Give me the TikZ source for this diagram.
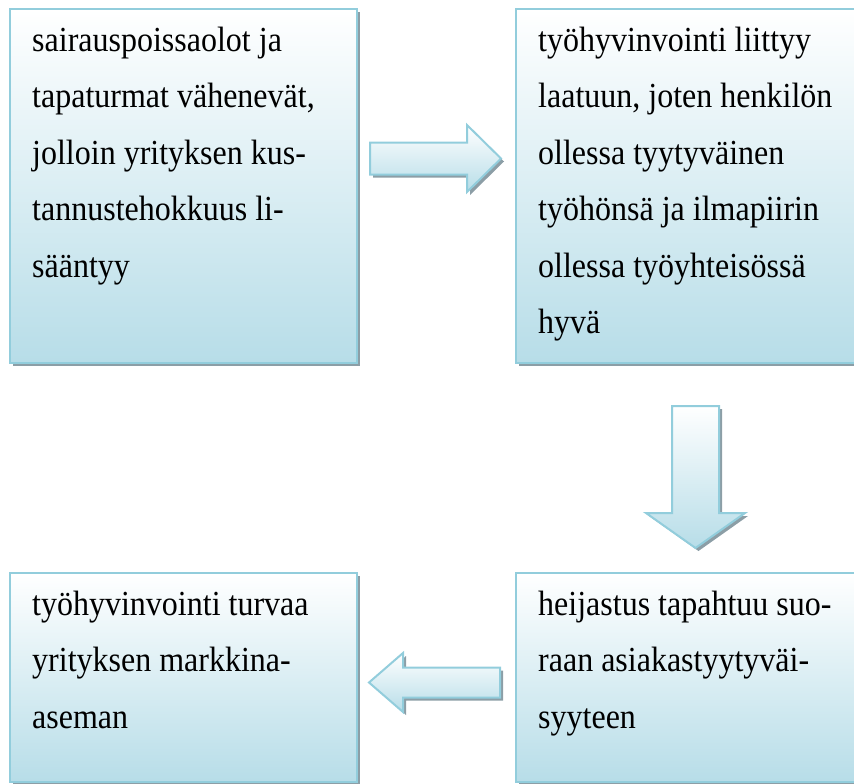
\documentclass[tikz,border=0pt]{standalone}
\usepackage{fontspec}
\usepackage{graphicx}
\setmainfont{Liberation Serif}
\usetikzlibrary{shadows,calc}

\definecolor{frameblue}{RGB}{146,205,220}
\definecolor{fillblue}{RGB}{183,221,232}
\definecolor{shadowgray}{RGB}{140,158,166}

% panel lettering: stretched a little in height
\newcommand{\paneltext}[1]{\scalebox{1}[1.1]{\parbox[t]{325pt}{\raggedright\strut #1}}}

\tikzset{
  softshadow/.style={drop shadow={shadow xshift=3pt, shadow yshift=-3pt, opacity=1, fill=shadowgray}},
  panel/.style={draw=frameblue, line width=2.5pt, top color=white, bottom color=fillblue,
    softshadow, minimum width=347pt, anchor=north west, inner sep=0pt, outer sep=0pt},
  caption/.style={font=\fontsize{32}{51.36}\selectfont, inner sep=0pt, anchor=north west},
  blockarrow/.style={draw=frameblue, line width=2pt, line join=miter, top color=white,
    bottom color=fillblue, softshadow}
}

\begin{document}
\begin{tikzpicture}[x=1pt,y=-1pt]
\useasboundingbox (0,0) rectangle (854,784);
\clip (0,0) rectangle (854,784);

% four text panels
\node[panel, minimum height=354pt] (b1) at (10,9) {};
\node[panel, minimum height=354pt] (b2) at (516,9) {};
\node[panel, minimum height=209pt] (b3) at (516,573) {};
\node[panel, minimum height=209pt] (b4) at (10,573) {};

% panel texts
\node[caption] (t1) at ($(b1.north west)+(22,2.5)$) {\paneltext{sairauspoissaolot ja\\
  tapaturmat vähenevät,\\ jolloin yrityksen kus-\\ tannustehokkuus li-\\ sääntyy}};
\node[caption] (t2) at ($(b2.north west)+(22,2.5)$) {\paneltext{työhyvinvointi liittyy\\
  laatuun, joten henkilön\\ ollessa tyytyväinen\\ työhönsä ja ilmapiirin\\
  ollessa työyhteisössä\\ hyvä}};
\node[caption] (t3) at ($(b3.north west)+(22,2.5)$) {\paneltext{heijastus tapahtuu suo-\\
  raan asiakastyytyväi-\\ syyteen}};
\node[caption] (t4) at ($(b4.north west)+(22,2.5)$) {\paneltext{työhyvinvointi turvaa\\
  yrityksen markkina-\\ aseman}};

% block arrows between the panels
\path[blockarrow] (370,142.5) -- (467,142.5) -- (467,125) -- (501,158.5) -- (467,192)
  -- (467,174.5) -- (370,174.5) -- cycle;
\path[blockarrow] (672,406) -- (719,406) -- (719,513) -- (745,513) -- (695.5,548)
  -- (646,513) -- (672,513) -- cycle;
\path[blockarrow] (369,682.5) -- (403,653) -- (403,667.5) -- (500,667.5) -- (500,697.5)
  -- (403,697.5) -- (403,712) -- cycle;
\end{tikzpicture}
\end{document}
